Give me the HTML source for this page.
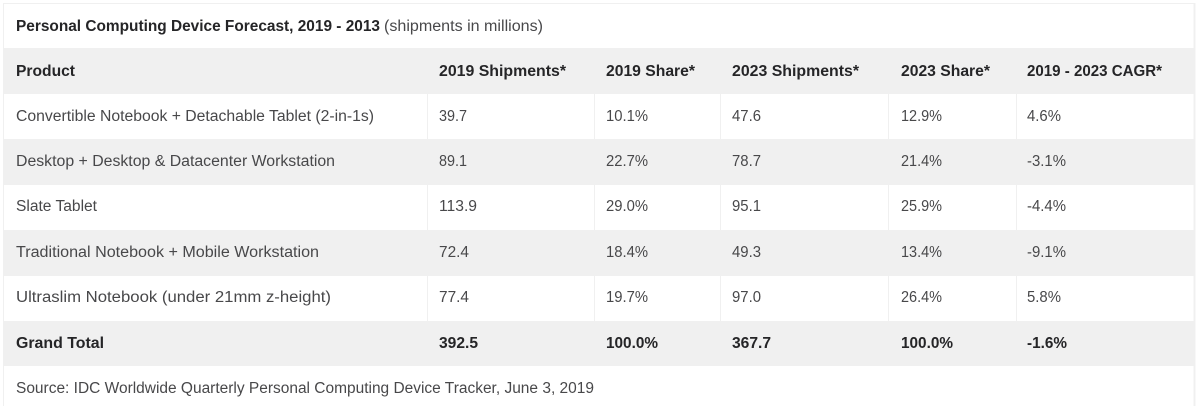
<!DOCTYPE html>
<html lang="en">
<head>
<meta charset="utf-8">
<title>Personal Computing Device Forecast</title>
<style>
html,body{margin:0;padding:0;width:1200px;height:406px;overflow:hidden;background:#fff}
svg{display:block}
text{font-family:"Liberation Sans",sans-serif;font-size:15.4px;fill:#48484a}
.b{font-weight:bold;fill:#252527}
</style>
</head>
<body>
<svg width="1200" height="406" viewBox="0 0 1200 406">
<g>
<rect x="4" y="48" width="1190" height="46" fill="#f0f0f0"/>
<rect x="4" y="139" width="1190" height="46" fill="#f0f0f0"/>
<rect x="4" y="230" width="1190" height="46" fill="#f0f0f0"/>
<rect x="4" y="321" width="1190" height="45" fill="#f0f0f0"/>
</g>
<g stroke="#f0f0f0" stroke-width="1">
<line x1="3.5" y1="3" x2="3.5" y2="406"/>
<line x1="1194.5" y1="3" x2="1194.5" y2="406" stroke-width="2"/>
<line x1="3" y1="3.5" x2="1195" y2="3.5"/>
<line x1="427.5" y1="94" x2="427.5" y2="321"/>
<line x1="594.5" y1="94" x2="594.5" y2="321"/>
<line x1="720.5" y1="94" x2="720.5" y2="321"/>
<line x1="888.5" y1="94" x2="888.5" y2="321"/>
<line x1="1016.5" y1="94" x2="1016.5" y2="321"/>
</g>

<text x="16" y="31" class="b" textLength="364" lengthAdjust="spacingAndGlyphs">Personal Computing Device Forecast, 2019 - 2013</text>
<text x="384" y="31" textLength="159" lengthAdjust="spacingAndGlyphs">(shipments in millions)</text>

<g>
<text x="16" y="76" class="b" textLength="59" lengthAdjust="spacingAndGlyphs">Product</text>
<text x="439" y="76" class="b" textLength="127" lengthAdjust="spacingAndGlyphs">2019 Shipments*</text>
<text x="606" y="76" class="b" textLength="89" lengthAdjust="spacingAndGlyphs">2019 Share*</text>
<text x="732" y="76" class="b" textLength="127" lengthAdjust="spacingAndGlyphs">2023 Shipments*</text>
<text x="901" y="76" class="b" textLength="89" lengthAdjust="spacingAndGlyphs">2023 Share*</text>
<text x="1027" y="76" class="b" textLength="135" lengthAdjust="spacingAndGlyphs">2019 - 2023 CAGR*</text>
</g>

<g>
<text x="16" y="121" textLength="358" lengthAdjust="spacingAndGlyphs">Convertible Notebook + Detachable Tablet (2-in-1s)</text>
<text x="439" y="121" textLength="28" lengthAdjust="spacingAndGlyphs">39.7</text>
<text x="606" y="121" textLength="42" lengthAdjust="spacingAndGlyphs">10.1%</text>
<text x="732" y="121" textLength="29" lengthAdjust="spacingAndGlyphs">47.6</text>
<text x="901" y="121" textLength="41" lengthAdjust="spacingAndGlyphs">12.9%</text>
<text x="1027" y="121" textLength="34" lengthAdjust="spacingAndGlyphs">4.6%</text>
</g>

<g>
<text x="16" y="166" textLength="319" lengthAdjust="spacingAndGlyphs">Desktop + Desktop &amp; Datacenter Workstation</text>
<text x="439" y="166" textLength="28" lengthAdjust="spacingAndGlyphs">89.1</text>
<text x="606" y="166" textLength="42" lengthAdjust="spacingAndGlyphs">22.7%</text>
<text x="732" y="166" textLength="29" lengthAdjust="spacingAndGlyphs">78.7</text>
<text x="901" y="166" textLength="41" lengthAdjust="spacingAndGlyphs">21.4%</text>
<text x="1027" y="166" textLength="39" lengthAdjust="spacingAndGlyphs">-3.1%</text>
</g>

<g>
<text x="16" y="211" textLength="81" lengthAdjust="spacingAndGlyphs">Slate Tablet</text>
<text x="439" y="211" textLength="38" lengthAdjust="spacingAndGlyphs">113.9</text>
<text x="606" y="211" textLength="42" lengthAdjust="spacingAndGlyphs">29.0%</text>
<text x="732" y="211" textLength="29" lengthAdjust="spacingAndGlyphs">95.1</text>
<text x="901" y="211" textLength="41" lengthAdjust="spacingAndGlyphs">25.9%</text>
<text x="1027" y="211" textLength="39" lengthAdjust="spacingAndGlyphs">-4.4%</text>
</g>

<g>
<text x="16" y="257" textLength="303" lengthAdjust="spacingAndGlyphs">Traditional Notebook + Mobile Workstation</text>
<text x="439" y="257" textLength="30" lengthAdjust="spacingAndGlyphs">72.4</text>
<text x="606" y="257" textLength="42" lengthAdjust="spacingAndGlyphs">18.4%</text>
<text x="732" y="257" textLength="29" lengthAdjust="spacingAndGlyphs">49.3</text>
<text x="901" y="257" textLength="41" lengthAdjust="spacingAndGlyphs">13.4%</text>
<text x="1027" y="257" textLength="39" lengthAdjust="spacingAndGlyphs">-9.1%</text>
</g>

<g>
<text x="16" y="302" textLength="315" lengthAdjust="spacingAndGlyphs">Ultraslim Notebook (under 21mm z-height)</text>
<text x="439" y="302" textLength="30" lengthAdjust="spacingAndGlyphs">77.4</text>
<text x="606" y="302" textLength="42" lengthAdjust="spacingAndGlyphs">19.7%</text>
<text x="732" y="302" textLength="29" lengthAdjust="spacingAndGlyphs">97.0</text>
<text x="901" y="302" textLength="41" lengthAdjust="spacingAndGlyphs">26.4%</text>
<text x="1027" y="302" textLength="34" lengthAdjust="spacingAndGlyphs">5.8%</text>
</g>

<g>
<text x="16" y="348" class="b" textLength="88" lengthAdjust="spacingAndGlyphs">Grand Total</text>
<text x="439" y="348" class="b" textLength="39" lengthAdjust="spacingAndGlyphs">392.5</text>
<text x="606" y="348" class="b" textLength="52" lengthAdjust="spacingAndGlyphs">100.0%</text>
<text x="732" y="348" class="b" textLength="39" lengthAdjust="spacingAndGlyphs">367.7</text>
<text x="901" y="348" class="b" textLength="52" lengthAdjust="spacingAndGlyphs">100.0%</text>
<text x="1027" y="348" class="b" textLength="40" lengthAdjust="spacingAndGlyphs">-1.6%</text>
</g>

<text x="16" y="393" textLength="578" lengthAdjust="spacingAndGlyphs">Source: IDC Worldwide Quarterly Personal Computing Device Tracker, June 3, 2019</text>
</svg>
</body>
</html>
